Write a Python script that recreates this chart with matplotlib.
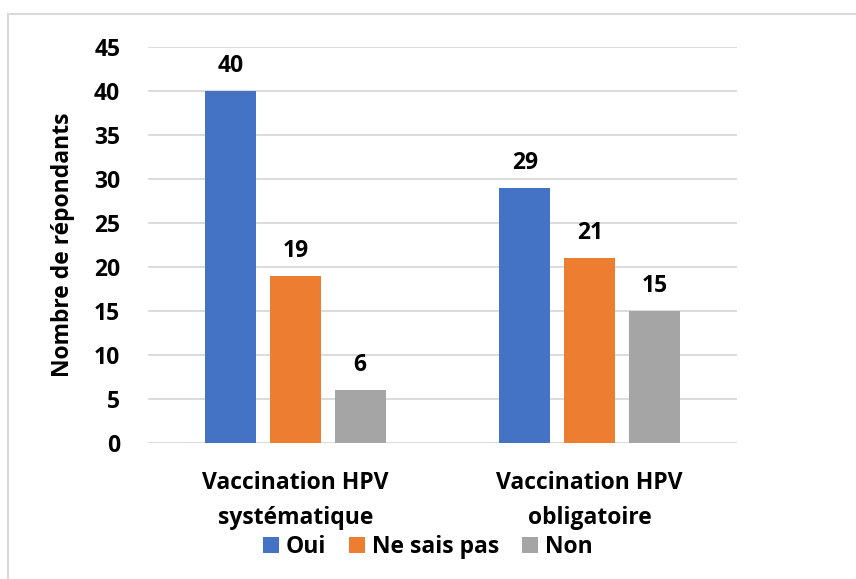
import numpy as np
import matplotlib.pyplot as plt
from matplotlib.patches import Rectangle

categories = ["Vaccination HPV\nsystématique", "Vaccination HPV\nobligatoire"]
series = ["Oui", "Ne sais pas", "Non"]
oui = [40, 29]
ne_sais_pas = [19, 21]
non = [6, 15]
colors = ["#4472C4", "#ED7D31", "#A5A5A5"]

plt.rcParams["font.family"] = ["Open Sans", "DejaVu Sans"]
plt.rcParams["font.weight"] = "bold"
fs = 16.5

fig = plt.figure(figsize=(8.56, 5.79), dpi=100)
ax = fig.add_axes([148/856, 1-443/579, (737-148)/856, (443-47)/579])

x = np.arange(len(categories))
width = 0.173
step = 0.22
for i, (name, vals) in enumerate(zip(series, [oui, ne_sais_pas, non])):
    bars = ax.bar(x + (i-1)*step, vals, width, color=colors[i], label=name, zorder=3)
    for b, v in zip(bars, vals):
        ax.text(b.get_x() + b.get_width()/2, v + 1.5, str(v), ha="center", va="bottom",
                fontsize=fs, fontweight="bold")

ax.set_xlim(-0.5, 1.5)
ax.set_ylim(0, 45)
ax.set_yticks(np.arange(0, 46, 5))
ax.set_xticks(x)
ax.set_xticklabels(categories, fontsize=fs, fontweight="bold", linespacing=1.6)
ax.tick_params(axis="y", labelsize=fs, length=0, pad=20)
ax.tick_params(axis="x", length=0, pad=20)
ax.grid(axis="y", color="#D9D9D9", linewidth=1.3, zorder=0)
for s in ax.spines.values():
    s.set_visible(False)
ax.set_ylabel("Nombre de répondants", fontsize=fs, fontweight="bold", labelpad=14)

fig.legend(loc="center", bbox_to_anchor=(428/856, 1-547/579), ncol=3, frameon=False,
           handlelength=0.7, handleheight=0.7, handletextpad=0.3,
           columnspacing=1.0, prop={"weight": "bold", "size": fs})

fig.patches.append(Rectangle((8/856, -0.05), 1.0, 1-14/579+0.05, transform=fig.transFigure,
                             fill=False, edgecolor="#D9D9D9", linewidth=1.5))

plt.savefig("out.png", dpi=100)
